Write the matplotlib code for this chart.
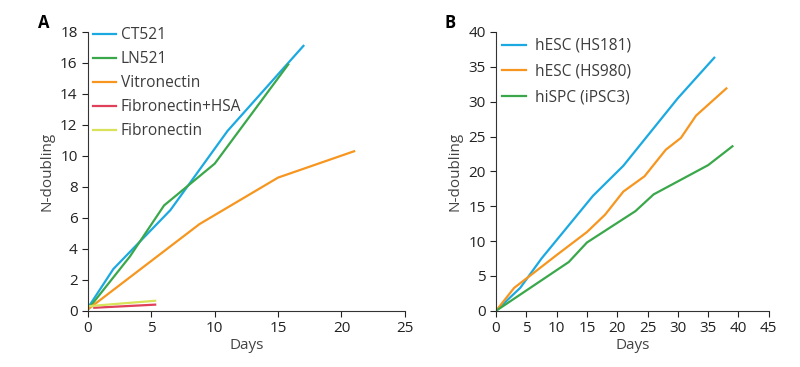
import matplotlib
matplotlib.use("Agg")
import matplotlib.pyplot as plt

# Panel A data
ct521_x = [0, 2, 6.5, 11, 17]
ct521_y = [0.2, 2.7, 6.5, 11.6, 17.1]
ln521_x = [0, 3.3, 6, 10, 15.8]
ln521_y = [0.1, 3.5, 6.8, 9.5, 15.9]
vitro_x = [0, 8.8, 15, 21]
vitro_y = [0.1, 5.6, 8.6, 10.3]
fibhsa_x = [0.5, 5.3]
fibhsa_y = [0.2, 0.4]
fib_x = [0, 5.3]
fib_y = [0.3, 0.65]

# Panel B data
hs181_x = [0, 4, 7.5, 16, 21, 30, 36]
hs181_y = [0, 3.3, 7.5, 16.5, 20.8, 30.5, 36.3]
hs980_x = [0, 3, 6, 10, 15, 18, 21, 24.5, 28, 30.5, 33, 38]
hs980_y = [0, 3.3, 5.3, 8, 11.3, 13.8, 17.1, 19.3, 23.1, 24.8, 28, 31.9]
ipsc3_x = [0, 12, 15, 23, 26, 35, 39]
ipsc3_y = [0, 7, 9.8, 14.3, 16.7, 20.9, 23.6]

BLUE = "#1ba9e1"
GREEN = "#3aa84a"
ORANGE = "#f7961f"
RED = "#e0405a"
YELLOW = "#d9e35a"

plt.rcParams['font.family'] = ['Open Sans', 'DejaVu Sans']
plt.rcParams['font.size'] = 11

fig = plt.figure(figsize=(8, 3.67), dpi=100)
ax1 = fig.add_axes([0.11, 0.153, 0.396, 0.76])
ax2 = fig.add_axes([0.62, 0.153, 0.341, 0.76])

lw = 1.6
ax1.plot(ct521_x, ct521_y, color=BLUE, lw=lw, label="CT521")
ax1.plot(ln521_x, ln521_y, color=GREEN, lw=lw, label="LN521")
ax1.plot(vitro_x, vitro_y, color=ORANGE, lw=lw, label="Vitronectin")
ax1.plot(fibhsa_x, fibhsa_y, color=RED, lw=lw, label="Fibronectin+HSA")
ax1.plot(fib_x, fib_y, color=YELLOW, lw=lw, label="Fibronectin")
ax1.set_xlim(0, 25)
ax1.set_ylim(0, 18)
ax1.set_xticks([0, 5, 10, 15, 20, 25])
ax1.set_yticks(range(0, 19, 2))

ax2.plot(hs181_x, hs181_y, color=BLUE, lw=lw, label="hESC (HS181)")
ax2.plot(hs980_x, hs980_y, color=ORANGE, lw=lw, label="hESC (HS980)")
ax2.plot(ipsc3_x, ipsc3_y, color=GREEN, lw=lw, label="hiSPC (iPSC3)")
ax2.set_xlim(0, 45)
ax2.set_ylim(0, 40)
ax2.set_xticks(range(0, 46, 5))
ax2.set_yticks(range(0, 41, 5))

for ax in (ax1, ax2):
    for s in ("top", "right"):
        ax.spines[s].set_visible(False)
    ax.spines["left"].set_color("#333333")
    ax.spines["bottom"].set_color("#333333")
    ax.tick_params(colors="#222222", labelsize=11, length=4)
    ax.set_xlabel("Days", fontsize=11, color="#444444", labelpad=1)
    ax.set_ylabel("N-doubling", fontsize=11, color="#444444")

ax1.legend(loc="upper left", bbox_to_anchor=(93 / 800, 1 - 27 / 367),
           bbox_transform=fig.transFigure, frameon=False, fontsize=11.2,
           handlelength=1.5, handletextpad=0.3, labelspacing=0.52,
           borderpad=0, borderaxespad=0, labelcolor="#3c3c3c")
ax2.legend(loc="upper left", bbox_to_anchor=(502 / 800, 1 - 38 / 367),
           bbox_transform=fig.transFigure, frameon=False, fontsize=11.2,
           handlelength=1.55, handletextpad=0.6, labelspacing=0.62,
           borderpad=0, borderaxespad=0, labelcolor="#3c3c3c")

fig.text(0.048, 0.925, "A", fontsize=12, fontweight="bold")
fig.text(0.556, 0.925, "B", fontsize=12, fontweight="bold")

fig.savefig("out.png", dpi=100)
